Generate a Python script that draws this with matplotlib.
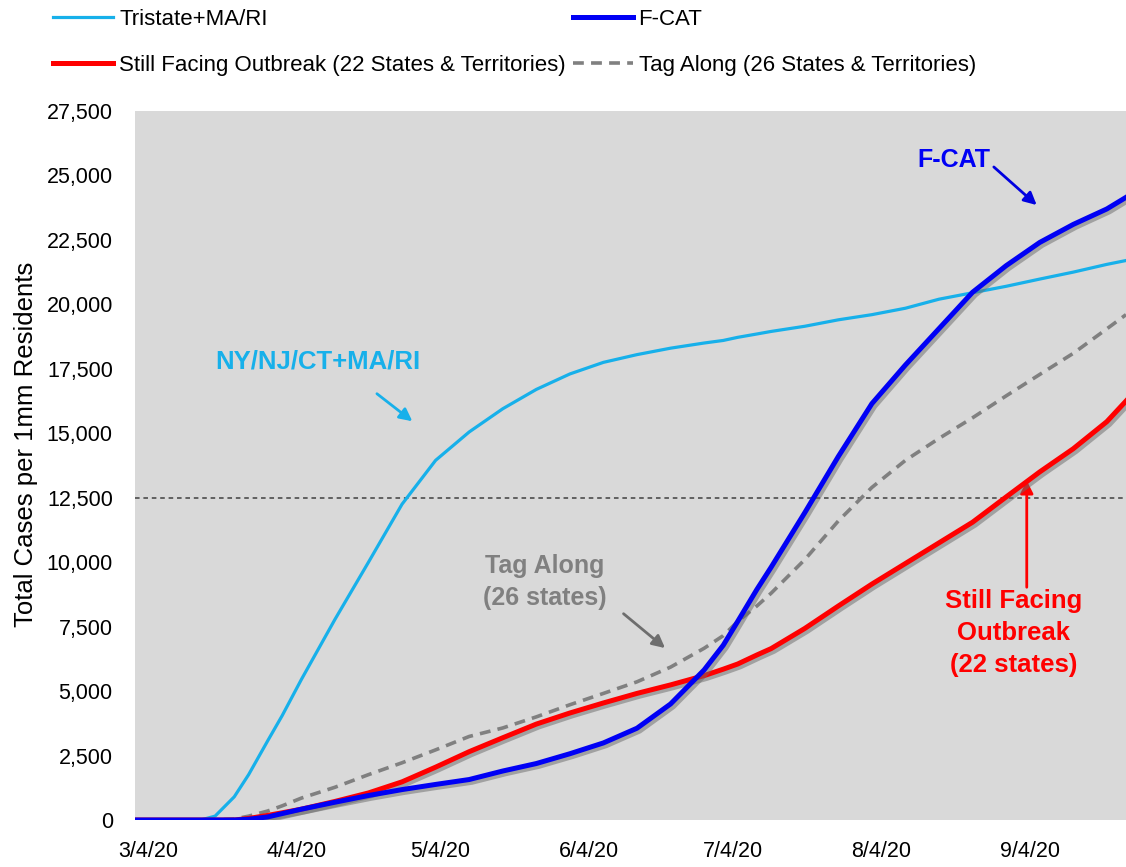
import matplotlib
matplotlib.use("Agg")
import matplotlib.pyplot as plt
import matplotlib.dates as mdates
import matplotlib.patheffects as pe
from matplotlib.lines import Line2D
from datetime import datetime, timedelta

plt.rcParams['font.family'] = ['Liberation Sans Narrow', 'Liberation Sans', 'DejaVu Sans']

# Observation dates (2020)
dates = ["3/1", "3/8", "3/15", "3/18", "3/22", "3/25", "3/29", "4/1", "4/5", "4/12",
         "4/19", "4/26", "5/3", "5/10", "5/17", "5/24", "5/31", "6/7", "6/14", "6/21",
         "6/28", "7/2", "7/5", "7/9", "7/12", "7/19", "7/26", "8/2", "8/9", "8/16",
         "8/23", "8/30", "9/6", "9/13", "9/20", "9/24"]

# Total cases per 1mm residents
tristate = [0, 0, 0, 150, 900, 1760, 3080, 4050, 5450, 7780,
            10000, 12250, 13950, 15050, 15950, 16700, 17300, 17750, 18050, 18300,
            18500, 18600, 18720, 18850, 18950, 19150, 19400, 19600, 19850, 20200,
            20450, 20700, 20980, 21250, 21550, 21700]
fcat = [0, 0, 0, 0, 0, 30, 120, 250, 420, 690,
        950, 1180, 1380, 1570, 1900, 2190, 2570, 2990, 3560, 4500,
        5820, 6780, 7700, 8940, 9810, 11920, 14100, 16150, 17650, 19060,
        20470, 21500, 22400, 23100, 23700, 24150]
still_facing = [0, 0, 0, 0, 0, 60, 180, 280, 420, 720,
                1050, 1480, 2050, 2650, 3190, 3720, 4150, 4540, 4910, 5240,
                5600, 5850, 6050, 6400, 6650, 7430, 8300, 9150, 9950, 10750,
                11550, 12530, 13500, 14400, 15450, 16250]
tag_along = [0, 0, 0, 0, 40, 150, 350, 550, 850, 1270,
             1760, 2220, 2720, 3240, 3570, 4000, 4470, 4910, 5360, 5930,
             6660, 7150, 7700, 8300, 8800, 10100, 11600, 12900, 13950, 14800,
             15600, 16450, 17280, 18100, 19050, 19600]

threshold = 12500
yticks = list(range(0, 27501, 2500))
xtick_labels = ["3/4/20", "4/4/20", "5/4/20", "6/4/20", "7/4/20", "8/4/20", "9/4/20"]


def to_date(md):
    m, d = md.split("/")
    return datetime(2020, int(m), int(d))


def when(md, extra_days=0.0):
    return mdates.date2num(to_date(md) + timedelta(days=extra_days))


x = [to_date(d) for d in dates]

fig = plt.figure(figsize=(11.26, 8.67), dpi=100)
ax = fig.add_axes([0.1199, 0.0542, 0.8801, 0.8178])
ax.set_facecolor("#d9d9d9")

shadow = [pe.SimpleLineShadow(offset=(2, -2), shadow_color="#6a6a6a", alpha=0.5),
          pe.Normal()]

styles = {
    "tri": dict(color="#17b0ea", lw=2.3),
    "fcat": dict(color="#0000f5", lw=3.6),
    "still": dict(color="#ff0000", lw=3.6),
    "tag": dict(color="#808080", lw=2.6, ls=(0, (3, 2))),
}

ax.axhline(threshold, color="#404040", lw=1.1, ls=(0, (3, 2.5)), zorder=1)

ax.plot(x, tristate, zorder=3, **styles["tri"])
ax.plot(x, fcat, zorder=5, path_effects=shadow, **styles["fcat"])
ax.plot(x, still_facing, zorder=4, path_effects=shadow, **styles["still"])
ax.plot(x, tag_along, zorder=3, **styles["tag"])

ax.set_xlim(when("3/1", 0.3), when("9/24"))
ax.set_ylim(0, 27500)
ax.set_yticks(yticks)
ax.set_yticklabels([f"{v:,}" for v in yticks])
ax.set_xticks([when(lbl.rsplit("/", 1)[0]) for lbl in xtick_labels])
ax.set_xticklabels(xtick_labels)
ax.tick_params(axis="both", length=0, labelsize=15.5, colors="#000000")
ax.tick_params(axis="y", pad=16)
ax.tick_params(axis="x", pad=15)
for s in ax.spines.values():
    s.set_visible(False)
ax.set_ylabel("Total Cases per 1mm Residents", fontsize=18.5, labelpad=8)
ax.yaxis.set_label_coords(-0.098, 0.53)

arrow = "-|>,head_length=0.75,head_width=0.38"

# Series call-outs
ax.text(when("3/4", 35.4), 17800, "NY/NJ/CT+MA/RI", color="#17b0ea", fontsize=18.5,
        fontweight="bold", ha="center", va="center")
ax.annotate("", xy=(when("3/4", 55.6), 15400), xytext=(when("3/4", 47.3), 16600),
            arrowprops=dict(arrowstyle=arrow, color="#17b0ea", lw=2))

ax.text(when("3/4", 168), 25600, "F-CAT", color="#0000f5", fontsize=18,
        fontweight="bold", ha="center", va="center")
ax.annotate("", xy=(when("3/4", 185.8), 23780), xytext=(when("3/4", 176), 25400),
            arrowprops=dict(arrowstyle=arrow, color="#0000e0", lw=2))

ax.text(when("3/4", 82.7), 9230, "Tag Along\n(26 states)", color="#808080",
        fontsize=18, fontweight="bold", ha="center", va="center", linespacing=1.45)
ax.annotate("", xy=(when("3/4", 108.3), 6600), xytext=(when("3/4", 98.75), 8070),
            arrowprops=dict(arrowstyle=arrow, color="#6e6e6e", lw=2))

ax.text(when("3/4", 180.6), 7250, "Still Facing\nOutbreak\n(22 states)", color="#ff0000",
        fontsize=18.5, fontweight="bold", ha="center", va="center", linespacing=1.42)
ax.annotate("", xy=(when("3/4", 183.3), 13270), xytext=(when("3/4", 183.3), 8920),
            arrowprops=dict(arrowstyle=arrow, color="#ff0000", lw=2))

# Legend (plain line keys, no shadow)
handles = [Line2D([], [], **styles["tri"]), Line2D([], [], **styles["still"]),
           Line2D([], [], **styles["fcat"]), Line2D([], [], **styles["tag"])]
labels = ["Tristate+MA/RI", "Still Facing Outbreak (22 States & Territories)",
          "F-CAT", "Tag Along (26 States & Territories)"]
fig.legend(handles, labels, ncol=2, loc="upper left",
           bbox_to_anchor=(0.0335, 1.008), frameon=False, fontsize=16,
           handlelength=2.7, handletextpad=0.27, columnspacing=0.3,
           labelspacing=1.12, borderaxespad=0.3)

fig.savefig("out.png", dpi=100)
